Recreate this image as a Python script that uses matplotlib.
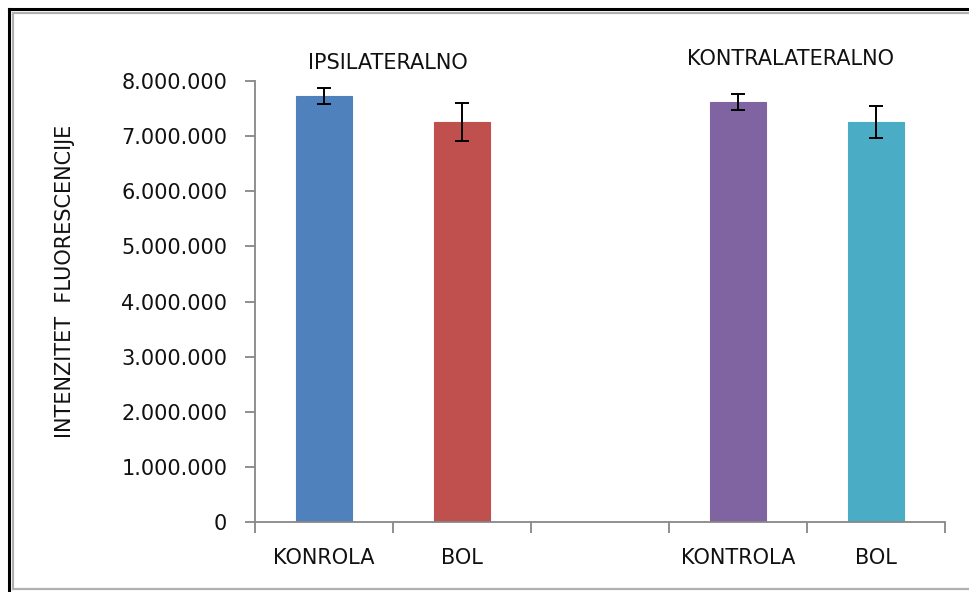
import matplotlib
matplotlib.use("Agg")
import matplotlib.pyplot as plt
from matplotlib.lines import Line2D
from matplotlib.ticker import FuncFormatter, FixedLocator

categories = ["KONROLA", "BOL", "", "KONTROLA", "BOL"]
values = [7730000, 7260000, None, 7620000, 7260000]
errors = [140000, 345000, None, 150000, 295000]
colors = ["#4F81BD", "#C0504D", None, "#8064A2", "#4BACC6"]
group_titles = ["IPSILATERALNO", "KONTRALATERALNO"]
y_ticks = [0, 1000000, 2000000, 3000000, 4000000, 5000000, 6000000, 7000000, 8000000]

W, H = 970, 592
fig = plt.figure(figsize=(W / 100, H / 100), dpi=100)
fig.patch.set_facecolor("white")

ax = fig.add_axes([255 / W, 1 - 522 / H, (945 - 255) / W, (522 - 81) / H])

font = "DejaVu Sans"
fs = 15
txt_color = "#111111"
axis_color = "#878787"

for i, (v, e, c) in enumerate(zip(values, errors, colors)):
    if v is None:
        continue
    ax.bar(i, v, width=0.41, color=c, edgecolor=c, linewidth=0.8, zorder=2)
    ax.errorbar(i, v, yerr=e, fmt="none", ecolor="black", elinewidth=1.4,
                capsize=5, capthick=1.4, zorder=3)

ax.set_xlim(-0.5, len(categories) - 0.5)
ax.set_ylim(0, 8000000)

ax.yaxis.set_major_locator(FixedLocator(y_ticks))
ax.yaxis.set_major_formatter(FuncFormatter(lambda v, p: f"{int(v):,}".replace(",", ".")))

ax.set_xticks(range(len(categories)))
ax.set_xticklabels(categories)
ax.set_xticks([i - 0.5 for i in range(len(categories) + 1)], minor=True)
ax.tick_params(axis="x", which="major", length=0, pad=19, labelsize=fs,
               labelcolor=txt_color)
ax.tick_params(axis="x", which="minor", length=8, width=1.3, color=axis_color,
               direction="out")
ax.tick_params(axis="y", which="major", length=7, width=1.3, color=axis_color,
               direction="out", pad=13, labelsize=fs, labelcolor=txt_color)
for lab in ax.get_xticklabels() + ax.get_yticklabels():
    lab.set_family(font)

for s in ["top", "right"]:
    ax.spines[s].set_visible(False)
for s in ["left", "bottom"]:
    ax.spines[s].set_color(axis_color)
    ax.spines[s].set_linewidth(1.3)

ax.text(-0.275, 0.545, "INTENZITET  FLUORESCENCIJE", transform=ax.transAxes,
        rotation=90, ha="center", va="center", fontsize=fs, family=font,
        color=txt_color)

ax.text(0.46, 8320000, group_titles[0], ha="center", va="center", fontsize=fs,
        family=font, color=txt_color, clip_on=False)
ax.text(3.38, 8400000, group_titles[1], ha="center", va="center", fontsize=fs,
        family=font, color=txt_color, clip_on=False)

# Frame around the chart
def fx(px):
    return px / W

def fy(py):
    return 1 - py / H

fig.add_artist(Line2D([fx(9.5), fx(9.5)], [fy(9), fy(600)], color="black", lw=2.2))
fig.add_artist(Line2D([fx(9.5), fx(980)], [fy(9), fy(9)], color="black", lw=2.2))
fig.add_artist(Line2D([fx(12.8), fx(12.8)], [fy(12.5), fy(589)], color="#b0b0b0", lw=1.6))
fig.add_artist(Line2D([fx(12.8), fx(980)], [fy(12.5), fy(12.5)], color="#b0b0b0", lw=1.6))
fig.add_artist(Line2D([fx(12.8), fx(980)], [fy(589), fy(589)], color="#b0b0b0", lw=1.6))

fig.savefig("out.png", dpi=100)
